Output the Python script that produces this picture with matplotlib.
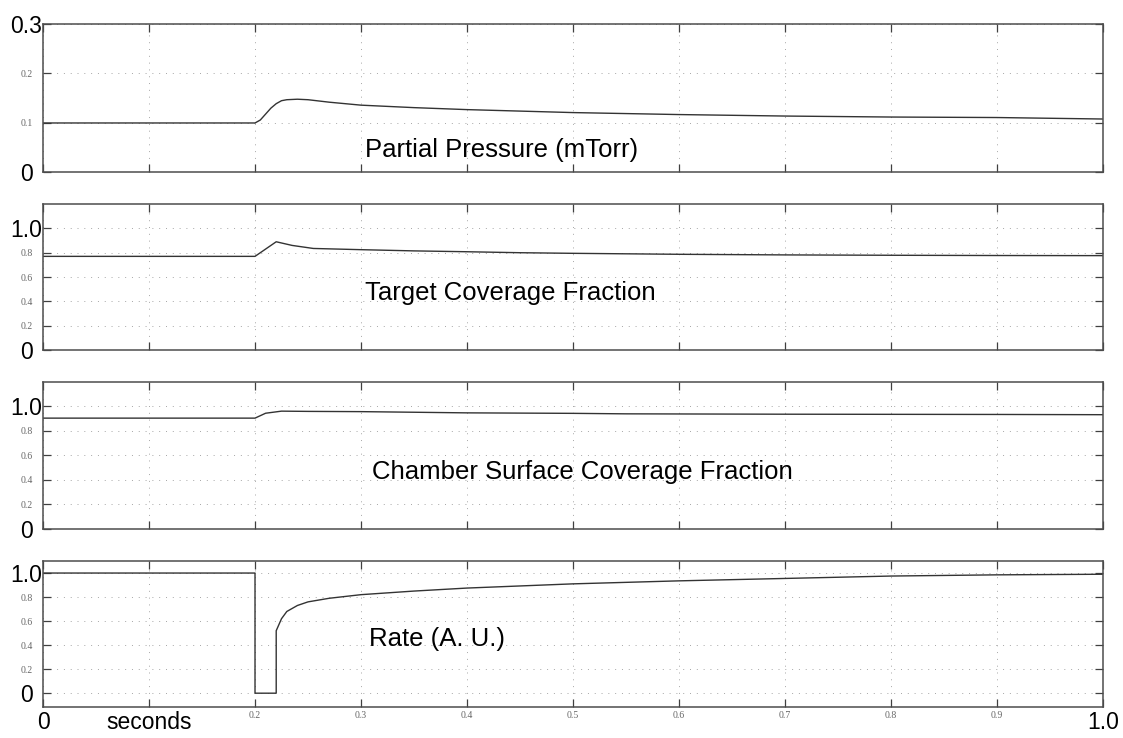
import matplotlib.pyplot as plt
from matplotlib.ticker import FixedLocator

# values (time in seconds)
t_press = [0, 0.2, 0.205, 0.21, 0.215, 0.22, 0.225, 0.23, 0.24, 0.25, 0.27,
           0.3, 0.35, 0.4, 0.5, 0.6, 0.7, 0.8, 0.9, 1.0]
pressure = [0.1, 0.1, 0.106, 0.118, 0.13, 0.139, 0.145, 0.147, 0.148, 0.147, 0.142,
            0.136, 0.131, 0.127, 0.121, 0.117, 0.114, 0.112, 0.111, 0.108]

t_target = [0, 0.2, 0.21, 0.22, 0.235, 0.255, 0.3, 0.35, 0.4, 0.45, 0.5,
            0.6, 0.7, 0.8, 0.9, 1.0]
target = [0.77, 0.77, 0.83, 0.89, 0.86, 0.835, 0.825, 0.815, 0.808, 0.80, 0.795,
          0.787, 0.782, 0.779, 0.777, 0.776]

t_chamber = [0, 0.2, 0.21, 0.225, 0.25, 0.3, 0.35, 0.4, 0.5, 0.55, 0.7, 0.9, 1.0]
chamber = [0.905, 0.905, 0.945, 0.962, 0.96, 0.958, 0.953, 0.948, 0.944, 0.94,
           0.937, 0.935, 0.933]

t_rate = [0, 0.2, 0.2, 0.22, 0.22, 0.225, 0.23, 0.24, 0.25, 0.27, 0.3, 0.35,
          0.4, 0.5, 0.6, 0.7, 0.8, 0.9, 1.0]
rate = [1.0, 1.0, 0.0, 0.0, 0.52, 0.62, 0.68, 0.73, 0.76, 0.79, 0.82, 0.85,
        0.875, 0.91, 0.935, 0.955, 0.975, 0.985, 0.99]

panel_names = ['Partial Pressure (mTorr)', 'Target Coverage Fraction',
               'Chamber Surface Coverage Fraction', 'Rate (A. U.)']

x_ticks = [0, 0.1, 0.2, 0.3, 0.4, 0.5, 0.6, 0.7, 0.8, 0.9, 1.0]
x_labels = ['0', 'seconds', '0.2', '0.3', '0.4', '0.5', '0.6', '0.7', '0.8', '0.9', '1.0']
big_x = ['0', 'seconds', '1.0']

y_ticks_p = [0, 0.1, 0.2, 0.3]
y_labels_p = ['0', '0.1', '0.2', '0.3']
y_ticks_f = [0, 0.2, 0.4, 0.6, 0.8, 1.0]
y_labels_f = ['0', '0.2', '0.4', '0.6', '0.8', '1.0']
big_y = ['0', '0.3', '1.0']

plt.rcParams['font.family'] = ['Liberation Sans', 'DejaVu Sans']

fig = plt.figure(figsize=(11.23, 7.38), dpi=100)

boxes = [[0.0383, 0.7663, 0.9439, 0.2012],
         [0.0383, 0.5257, 0.9439, 0.1978],
         [0.0383, 0.2832, 0.9439, 0.1992],
         [0.0383, 0.0420, 0.9439, 0.1978]]
series = [(t_press, pressure), (t_target, target), (t_chamber, chamber), (t_rate, rate)]
ylims = [(0, 0.3), (0, 1.2), (0, 1.2), (-0.115, 1.1)]
text_pos = [(0.304, 0.031), (0.304, 0.41), (0.31, 0.41), (0.308, 0.39)]


def style_labels(labels, big, small_size=7):
    for lab in labels:
        if lab.get_text() in big:
            lab.set_fontsize(16.5)
            lab.set_color('black')
        else:
            lab.set_fontsize(small_size)
            lab.set_color('0.4')
            lab.set_family('Liberation Serif')


for i in range(4):
    ax = fig.add_axes(boxes[i])
    t, v = series[i]
    ax.plot(t, v, color='0.2', lw=1.0)
    ax.set_xlim(0, 1.0)
    ax.set_ylim(*ylims[i])

    ax.xaxis.set_major_locator(FixedLocator(x_ticks))
    if i == 0:
        ax.set_yticks(y_ticks_p)
        ax.set_yticklabels(y_labels_p)
    else:
        ax.set_yticks(y_ticks_f)
        ax.set_yticklabels(y_labels_f)

    if i == 3:
        ax.set_xticklabels(x_labels)
        style_labels(ax.get_xticklabels(), big_x)
    else:
        ax.set_xticklabels([])

    ax.tick_params(direction='in', top=True, right=True, length=6, width=0.9,
                   color='0.25')
    ax.tick_params(axis='y', pad=12)
    ax.tick_params(axis='x', pad=3)
    style_labels(ax.get_yticklabels(), big_y)
    for lab in ax.get_yticklabels():
        lab.set_horizontalalignment('center')

    for sp in ax.spines.values():
        sp.set_color('0.3')
        sp.set_linewidth(1.1)

    ax.grid(True, linestyle=(0, (1, 6)), color='0.65', lw=0.7)

    tx, ty = text_pos[i]
    ax.text(tx, ty, panel_names[i], fontsize=18.5, color='black', va='baseline')

fig.savefig('out.png', dpi=100)
